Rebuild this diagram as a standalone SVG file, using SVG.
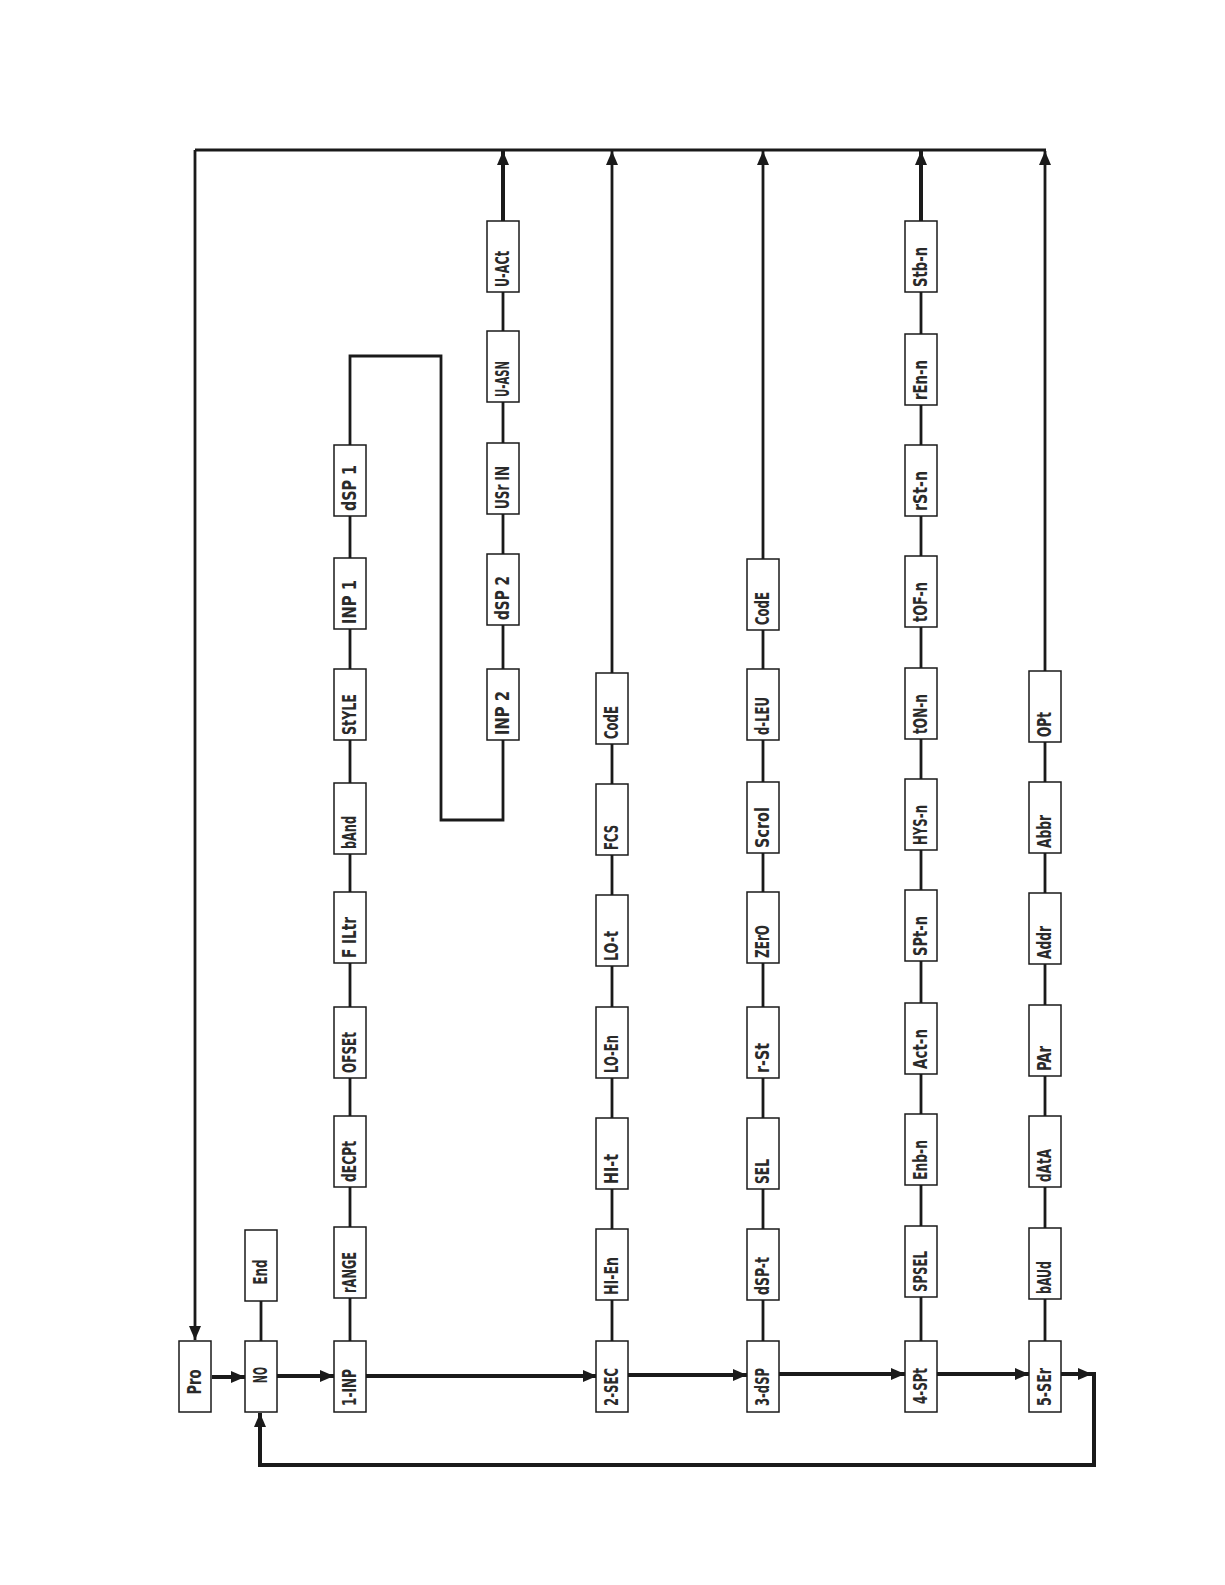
<svg xmlns="http://www.w3.org/2000/svg" width="1225" height="1585" viewBox="0 0 1225 1585">
<style>
.b{fill:#fff;stroke:#1a1a1a;stroke-width:1.5}
.t{font-family:"Liberation Sans Narrow","DejaVu Sans Condensed","Liberation Sans",sans-serif;font-size:19px;font-weight:bold;fill:#2a2a2a}
.c{fill:none;stroke:#1a1a1a;stroke-width:2.8}
.k{fill:none;stroke:#1a1a1a;stroke-width:4}
.m{fill:none;stroke:#1a1a1a;stroke-width:4}
</style>
<defs>
<marker id="ah" markerUnits="userSpaceOnUse" viewBox="0 0 14 12" markerWidth="14" markerHeight="12" refX="14" refY="6" orient="auto"><path d="M0,0 L14,6 L0,12 z" fill="#1a1a1a"/></marker>
</defs>
<rect width="1225" height="1585" fill="#fff"/>
<g id="connectors">
<path class="c" d="M195,150 H1046" stroke-width="3"/>
<path class="c" d="M195,150 V1340" stroke-width="3" marker-end="url(#ah)"/>
<path class="c" d="M261,1230 V1341"/>
<path class="c" d="M350,1341 V356 H441 V820 H503 V740"/>
<path class="c" d="M503,740 V290"/>
<path class="k" d="M503,292 V151" marker-end="url(#ah)"/>
<path class="c" d="M612,1341 V151" marker-end="url(#ah)"/>
<path class="c" d="M763,1341 V151" marker-end="url(#ah)"/>
<path class="c" d="M921,1341 V290"/>
<path class="k" d="M921,292 V151" marker-end="url(#ah)"/>
<path class="c" d="M1045,1341 V151" marker-end="url(#ah)"/>
<path class="m" d="M212,1377 H245" marker-end="url(#ah)"/>
<path class="m" d="M277,1376 H334" marker-end="url(#ah)"/>
<path class="m" d="M366,1376 H597" marker-end="url(#ah)"/>
<path class="m" d="M628,1375 H747" marker-end="url(#ah)"/>
<path class="m" d="M779,1374 H905" marker-end="url(#ah)"/>
<path class="m" d="M937,1374 H1029" marker-end="url(#ah)"/>
<path class="m" d="M1061,1374 H1092" marker-end="url(#ah)"/>
<path class="m" d="M1094,1372 V1465 H260 V1413" marker-end="url(#ah)"/>
</g>
<g id="n-pro"><rect class="b" x="179" y="1341" width="32" height="71"/><text class="t" text-anchor="middle" transform="translate(201,1382) rotate(-90)" textLength="25" lengthAdjust="spacingAndGlyphs">Pro</text></g>
<g id="n-no"><rect class="b" x="245" y="1341" width="32" height="71"/><text class="t" text-anchor="middle" transform="translate(267,1375) rotate(-90)" textLength="16" lengthAdjust="spacingAndGlyphs">NO</text></g>
<g id="n-end"><rect class="b" x="245" y="1230" width="32" height="71"/><text class="t" text-anchor="middle" transform="translate(267,1272) rotate(-90)" textLength="25" lengthAdjust="spacingAndGlyphs">End</text></g>

<g id="n-1inp"><rect class="b" x="334" y="1341" width="32" height="71"/><text class="t" transform="translate(356,1406) rotate(-90)" textLength="37" lengthAdjust="spacingAndGlyphs">1-INP</text></g>
<g id="n-range"><rect class="b" x="334" y="1227" width="32" height="71"/><text class="t" transform="translate(356,1293) rotate(-90)" textLength="41" lengthAdjust="spacingAndGlyphs">rANGE</text></g>
<g id="n-decpt"><rect class="b" x="334" y="1116" width="32" height="71"/><text class="t" transform="translate(356,1182) rotate(-90)" textLength="41" lengthAdjust="spacingAndGlyphs">dECPt</text></g>
<g id="n-ofset"><rect class="b" x="334" y="1007" width="32" height="71"/><text class="t" transform="translate(356,1073) rotate(-90)" textLength="41" lengthAdjust="spacingAndGlyphs">OFSEt</text></g>
<g id="n-filtr"><rect class="b" x="334" y="892" width="32" height="71"/><text class="t" transform="translate(356,958) rotate(-90)" textLength="41" lengthAdjust="spacingAndGlyphs">F ILtr</text></g>
<g id="n-band"><rect class="b" x="334" y="783" width="32" height="71"/><text class="t" transform="translate(356,849) rotate(-90)" textLength="33" lengthAdjust="spacingAndGlyphs">bAnd</text></g>
<g id="n-style"><rect class="b" x="334" y="669" width="32" height="71"/><text class="t" transform="translate(356,735) rotate(-90)" textLength="41" lengthAdjust="spacingAndGlyphs">StYLE</text></g>
<g id="n-inp1"><rect class="b" x="334" y="558" width="32" height="71"/><text class="t" transform="translate(356,624) rotate(-90)" textLength="44" lengthAdjust="spacingAndGlyphs">INP  1</text></g>
<g id="n-dsp1"><rect class="b" x="334" y="445" width="32" height="71"/><text class="t" transform="translate(356,511) rotate(-90)" textLength="46" lengthAdjust="spacingAndGlyphs">dSP  1</text></g>

<g id="n-inp2"><rect class="b" x="487" y="669" width="32" height="71"/><text class="t" transform="translate(509,735) rotate(-90)" textLength="44" lengthAdjust="spacingAndGlyphs">INP  2</text></g>
<g id="n-dsp2"><rect class="b" x="487" y="554" width="32" height="71"/><text class="t" transform="translate(509,620) rotate(-90)" textLength="44" lengthAdjust="spacingAndGlyphs">dSP  2</text></g>
<g id="n-usrin"><rect class="b" x="487" y="443" width="32" height="71"/><text class="t" transform="translate(509,509) rotate(-90)" textLength="43" lengthAdjust="spacingAndGlyphs">USr IN</text></g>
<g id="n-uasn"><rect class="b" x="487" y="331" width="32" height="71"/><text class="t" transform="translate(509,397) rotate(-90)" textLength="36" lengthAdjust="spacingAndGlyphs">U-ASN</text></g>
<g id="n-uact"><rect class="b" x="487" y="221" width="32" height="71"/><text class="t" transform="translate(509,287) rotate(-90)" textLength="36" lengthAdjust="spacingAndGlyphs">U-ACt</text></g>

<g id="n-2sec"><rect class="b" x="596" y="1341" width="32" height="71"/><text class="t" transform="translate(618,1406) rotate(-90)" textLength="38" lengthAdjust="spacingAndGlyphs">2-SEC</text></g>
<g id="n-hien"><rect class="b" x="596" y="1229" width="32" height="71"/><text class="t" transform="translate(618,1295) rotate(-90)" textLength="38" lengthAdjust="spacingAndGlyphs">HI-En</text></g>
<g id="n-hit"><rect class="b" x="596" y="1118" width="32" height="71"/><text class="t" transform="translate(618,1184) rotate(-90)" textLength="30" lengthAdjust="spacingAndGlyphs">HI-t</text></g>
<g id="n-loen"><rect class="b" x="596" y="1007" width="32" height="71"/><text class="t" transform="translate(618,1073) rotate(-90)" textLength="38" lengthAdjust="spacingAndGlyphs">LO-En</text></g>
<g id="n-lot"><rect class="b" x="596" y="895" width="32" height="71"/><text class="t" transform="translate(618,961) rotate(-90)" textLength="30" lengthAdjust="spacingAndGlyphs">LO-t</text></g>
<g id="n-fcs"><rect class="b" x="596" y="784" width="32" height="71"/><text class="t" transform="translate(618,850) rotate(-90)" textLength="25" lengthAdjust="spacingAndGlyphs">FCS</text></g>
<g id="n-code1"><rect class="b" x="596" y="673" width="32" height="71"/><text class="t" transform="translate(618,739) rotate(-90)" textLength="33" lengthAdjust="spacingAndGlyphs">CodE</text></g>

<g id="n-3dsp"><rect class="b" x="747" y="1341" width="32" height="71"/><text class="t" transform="translate(769,1406) rotate(-90)" textLength="38" lengthAdjust="spacingAndGlyphs">3-dSP</text></g>
<g id="n-dspt"><rect class="b" x="747" y="1229" width="32" height="71"/><text class="t" transform="translate(769,1295) rotate(-90)" textLength="38" lengthAdjust="spacingAndGlyphs">dSP-t</text></g>
<g id="n-sel"><rect class="b" x="747" y="1118" width="32" height="71"/><text class="t" transform="translate(769,1184) rotate(-90)" textLength="25" lengthAdjust="spacingAndGlyphs">SEL</text></g>
<g id="n-rst"><rect class="b" x="747" y="1007" width="32" height="71"/><text class="t" transform="translate(769,1073) rotate(-90)" textLength="30" lengthAdjust="spacingAndGlyphs">r-St</text></g>
<g id="n-zero"><rect class="b" x="747" y="892" width="32" height="71"/><text class="t" transform="translate(769,958) rotate(-90)" textLength="33" lengthAdjust="spacingAndGlyphs">ZErO</text></g>
<g id="n-scrol"><rect class="b" x="747" y="782" width="32" height="71"/><text class="t" transform="translate(769,848) rotate(-90)" textLength="41" lengthAdjust="spacingAndGlyphs">Scrol</text></g>
<g id="n-dlev"><rect class="b" x="747" y="669" width="32" height="71"/><text class="t" transform="translate(769,735) rotate(-90)" textLength="38" lengthAdjust="spacingAndGlyphs">d-LEU</text></g>
<g id="n-code2"><rect class="b" x="747" y="559" width="32" height="71"/><text class="t" transform="translate(769,625) rotate(-90)" textLength="33" lengthAdjust="spacingAndGlyphs">CodE</text></g>

<g id="n-4spt"><rect class="b" x="905" y="1341" width="32" height="71"/><text class="t" transform="translate(927,1404) rotate(-90)" textLength="36" lengthAdjust="spacingAndGlyphs">4-SPt</text></g>
<g id="n-spsel"><rect class="b" x="905" y="1226" width="32" height="71"/><text class="t" transform="translate(927,1292) rotate(-90)" textLength="41" lengthAdjust="spacingAndGlyphs">SPSEL</text></g>
<g id="n-enbn"><rect class="b" x="905" y="1114" width="32" height="71"/><text class="t" transform="translate(927,1180) rotate(-90)" textLength="40" lengthAdjust="spacingAndGlyphs">Enb-n</text></g>
<g id="n-actn"><rect class="b" x="905" y="1003" width="32" height="71"/><text class="t" transform="translate(927,1069) rotate(-90)" textLength="40" lengthAdjust="spacingAndGlyphs">Act-n</text></g>
<g id="n-sptn"><rect class="b" x="905" y="890" width="32" height="71"/><text class="t" transform="translate(927,956) rotate(-90)" textLength="40" lengthAdjust="spacingAndGlyphs">SPt-n</text></g>
<g id="n-hysn"><rect class="b" x="905" y="779" width="32" height="71"/><text class="t" transform="translate(927,845) rotate(-90)" textLength="40" lengthAdjust="spacingAndGlyphs">HYS-n</text></g>
<g id="n-tonn"><rect class="b" x="905" y="668" width="32" height="71"/><text class="t" transform="translate(927,734) rotate(-90)" textLength="40" lengthAdjust="spacingAndGlyphs">tON-n</text></g>
<g id="n-tofn"><rect class="b" x="905" y="556" width="32" height="71"/><text class="t" transform="translate(927,622) rotate(-90)" textLength="40" lengthAdjust="spacingAndGlyphs">tOF-n</text></g>
<g id="n-rstn"><rect class="b" x="905" y="445" width="32" height="71"/><text class="t" transform="translate(927,511) rotate(-90)" textLength="40" lengthAdjust="spacingAndGlyphs">rSt-n</text></g>
<g id="n-renn"><rect class="b" x="905" y="334" width="32" height="71"/><text class="t" transform="translate(927,400) rotate(-90)" textLength="40" lengthAdjust="spacingAndGlyphs">rEn-n</text></g>
<g id="n-stbn"><rect class="b" x="905" y="221" width="32" height="71"/><text class="t" transform="translate(927,287) rotate(-90)" textLength="40" lengthAdjust="spacingAndGlyphs">Stb-n</text></g>

<g id="n-5ser"><rect class="b" x="1029" y="1341" width="32" height="71"/><text class="t" transform="translate(1051,1406) rotate(-90)" textLength="38" lengthAdjust="spacingAndGlyphs">5-SEr</text></g>
<g id="n-baud"><rect class="b" x="1029" y="1228" width="32" height="71"/><text class="t" transform="translate(1051,1294) rotate(-90)" textLength="33" lengthAdjust="spacingAndGlyphs">bAUd</text></g>
<g id="n-data"><rect class="b" x="1029" y="1116" width="32" height="71"/><text class="t" transform="translate(1051,1182) rotate(-90)" textLength="33" lengthAdjust="spacingAndGlyphs">dAtA</text></g>
<g id="n-par"><rect class="b" x="1029" y="1005" width="32" height="71"/><text class="t" transform="translate(1051,1071) rotate(-90)" textLength="25" lengthAdjust="spacingAndGlyphs">PAr</text></g>
<g id="n-addr"><rect class="b" x="1029" y="893" width="32" height="71"/><text class="t" transform="translate(1051,959) rotate(-90)" textLength="33" lengthAdjust="spacingAndGlyphs">Addr</text></g>
<g id="n-abbr"><rect class="b" x="1029" y="782" width="32" height="71"/><text class="t" transform="translate(1051,848) rotate(-90)" textLength="33" lengthAdjust="spacingAndGlyphs">Abbr</text></g>
<g id="n-opt"><rect class="b" x="1029" y="671" width="32" height="71"/><text class="t" transform="translate(1051,737) rotate(-90)" textLength="25" lengthAdjust="spacingAndGlyphs">OPt</text></g>
</svg>
